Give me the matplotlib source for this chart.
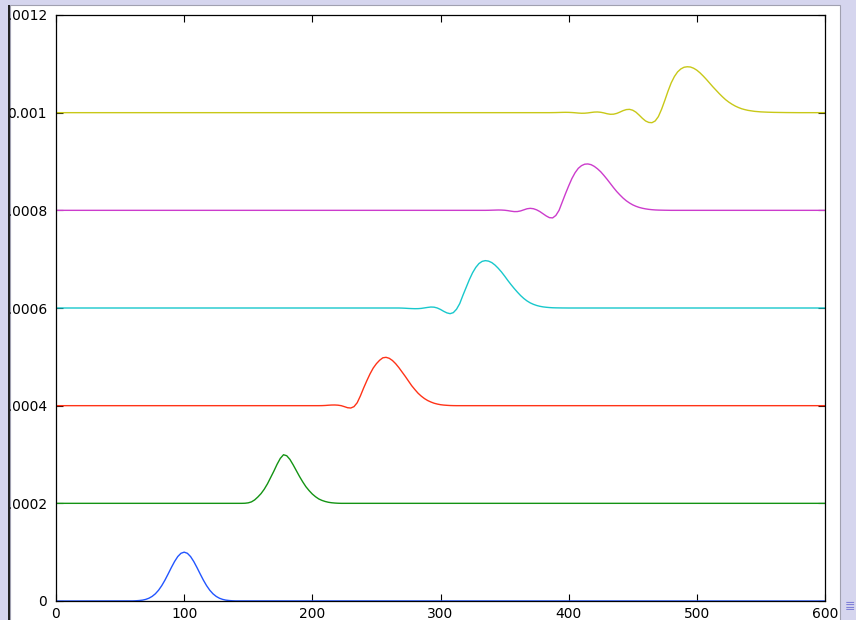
import matplotlib
matplotlib.use("Agg")
import matplotlib.pyplot as plt
from matplotlib.patches import Rectangle
import numpy as np

W, H = 856, 620

# baselines (the curves are stacked 0.0002 apart)
offsets = [0.0, 0.0002, 0.0004, 0.0006, 0.0008, 0.0010]

# deviations from the baseline, in units of 1e-5
x0 = [0, 60, 62.5, 65, 67.5, 70, 72.5, 75, 77.5, 80, 82.5, 85, 87.5, 90, 92.5, 95, 97.5,
      100, 102.5, 105, 107.5, 110, 112.5, 115, 117.5, 120, 122.5, 125, 127.5, 130,
      132.5, 135, 137.5, 140, 600]
d0 = [0, 0.02, 0.05, 0.1, 0.18, 0.33, 0.57, 0.94, 1.47, 2.2, 3.14, 4.27, 5.54, 6.85, 8.08, 9.1, 9.77,
      10.0, 9.77, 9.1, 8.08, 6.85, 5.54, 4.27, 3.14, 2.2, 1.47, 0.94, 0.57, 0.33,
      0.18, 0.1, 0.05, 0.02, 0]

x1 = [0, 145, 147.5, 150, 152.5, 155, 157.5, 160, 162.5, 165, 167.5, 170, 172.5, 175,
      177.5, 180, 182.5, 185, 187.5, 190, 192.5, 195, 197.5, 200, 202.5, 205, 207.5,
      210, 212.5, 215, 217.5, 220, 222.5, 600]
d1 = [0, 0, 0.02, 0.1, 0.3, 0.7, 1.3, 2.0, 2.9, 4.0, 5.3, 6.6, 8.0, 9.2,
      9.95, 9.75, 9.0, 7.9, 6.7, 5.5, 4.4, 3.4, 2.6, 1.9, 1.35, 0.9, 0.6,
      0.38, 0.22, 0.12, 0.06, 0.02, 0, 0]

x2 = [0, 205, 207.5, 210, 212.5, 215, 217.5, 220, 222.5, 225, 227.5, 230, 232.5, 235,
      237.5, 240, 242.5, 245, 247.5, 250, 252.5, 255, 257.5, 260, 262.5, 265, 267.5,
      270, 272.5, 275, 277.5, 280, 282.5, 285, 287.5, 290, 292.5, 295, 297.5, 300,
      302.5, 305, 307.5, 310, 312.5, 600]
d2 = [0, 0, 0.01, 0.04, 0.09, 0.13, 0.14, 0.1, 0.0, -0.2, -0.42, -0.48, -0.2, 0.6,
      2.0, 3.6, 5.1, 6.5, 7.7, 8.6, 9.3, 9.8, 9.9, 9.7, 9.25, 8.6, 7.8,
      6.9, 6.0, 5.05, 4.1, 3.3, 2.55, 1.95, 1.45, 1.05, 0.75, 0.5, 0.33, 0.2,
      0.12, 0.07, 0.03, 0.01, 0, 0]

x3 = [0, 265, 267.5, 270, 272.5, 275, 277.5, 280, 282.5, 285, 287.5, 290, 292.5, 295,
      297.5, 300, 302.5, 305, 307.5, 310, 312.5, 315, 317.5, 320, 322.5, 325, 327.5,
      330, 332.5, 335, 337.5, 340, 342.5, 345, 347.5, 350, 352.5, 355, 357.5, 360,
      362.5, 365, 367.5, 370, 372.5, 375, 377.5, 380, 382.5, 385, 387.5, 390, 395,
      400, 600]
d3 = [0, 0, 0.0, -0.02, -0.05, -0.09, -0.12, -0.14, -0.13, -0.08, 0.02, 0.12, 0.2, 0.17,
      0.0, -0.3, -0.68, -1.0, -1.16, -0.95, -0.25, 0.9, 2.6, 4.2, 5.8, 7.2, 8.3,
      9.1, 9.55, 9.7, 9.6, 9.3, 8.8, 8.15, 7.4, 6.55, 5.65, 4.8, 4.0, 3.25,
      2.55, 1.95, 1.45, 1.05, 0.75, 0.52, 0.35, 0.23, 0.15, 0.09, 0.05, 0.03, 0.01,
      0, 0]

x4 = [0, 335, 337.5, 340, 342.5, 345, 347.5, 350, 352.5, 355, 357.5, 360, 362.5, 365,
      367.5, 370, 372.5, 375, 377.5, 380, 382.5, 385, 387.5, 390, 392.5, 395, 397.5,
      400, 402.5, 405, 407.5, 410, 412.5, 415, 417.5, 420, 422.5, 425, 427.5, 430,
      432.5, 435, 437.5, 440, 442.5, 445, 447.5, 450, 452.5, 455, 457.5, 460, 462.5,
      465, 467.5, 470, 475, 480, 600]
d4 = [0, 0, 0.01, 0.03, 0.05, 0.07, 0.06, 0.02, -0.06, -0.17, -0.26, -0.25, -0.12, 0.1,
      0.32, 0.41, 0.33, 0.1, -0.25, -0.7, -1.15, -1.5, -1.55, -1.05, 0.0, 1.7, 3.4,
      5.0, 6.5, 7.7, 8.6, 9.15, 9.45, 9.5, 9.35, 9.0, 8.5, 7.9, 7.15, 6.35,
      5.5, 4.65, 3.85, 3.15, 2.5, 1.95, 1.5, 1.12, 0.83, 0.6, 0.43, 0.3, 0.2,
      0.13, 0.08, 0.05, 0.02, 0, 0]

x5 = [0, 385, 390, 395, 397.5, 400, 402.5, 405, 407.5, 410, 412.5, 415, 417.5, 420,
      422.5, 425, 427.5, 430, 432.5, 435, 437.5, 440, 442.5, 445, 447.5, 450, 452.5,
      455, 457.5, 460, 462.5, 465, 467.5, 470, 472.5, 475, 477.5, 480, 482.5, 485,
      487.5, 490, 492.5, 495, 497.5, 500, 502.5, 505, 507.5, 510, 512.5, 515, 517.5,
      520, 522.5, 525, 527.5, 530, 532.5, 535, 537.5, 540, 545, 550, 555, 560, 565,
      570, 580, 600]
d5 = [0, 0, 0.02, 0.06, 0.07, 0.06, 0.03, -0.02, -0.08, -0.12, -0.11, -0.05, 0.04, 0.12,
      0.14, 0.08, -0.05, -0.22, -0.33, -0.31, -0.15, 0.12, 0.42, 0.63, 0.68, 0.5, 0.1,
      -0.5, -1.15, -1.7, -2.0, -2.05, -1.7, -0.8, 0.7, 2.5, 4.4, 6.1, 7.4, 8.35,
      8.95, 9.3, 9.4, 9.35, 9.1, 8.7, 8.15, 7.5, 6.8, 6.05, 5.3, 4.6, 3.9,
      3.25, 2.65, 2.15, 1.72, 1.35, 1.05, 0.8, 0.62, 0.47, 0.27, 0.16, 0.1, 0.06, 0.04,
      0.02, 0, 0]

xs = [x0, x1, x2, x3, x4, x5]
ds = [d0, d1, d2, d3, d4, d5]
colors = ['#2255ff', '#139313', '#ff3318', '#18c8cc', '#cc3ccc', '#c8c818']

xticks = [0, 100, 200, 300, 400, 500, 600]
yticks = [0, 0.0002, 0.0004, 0.0006, 0.0008, 0.001, 0.0012]
ylabels = ['0', '0.0002', '0.0004', '0.0006', '0.0008', '0.001', '0.0012']


def px_box(x1p, y1p, x2p, y2p):
    # pixel box (top-left origin) -> figure fraction (left, bottom, w, h)
    return x1p / W, 1 - y2p / H, (x2p - x1p) / W, (y2p - y1p) / H


fig = plt.figure(figsize=(W / 100, H / 100), dpi=100, facecolor='#d5d5ee')

# white window area
l, b, w, h = px_box(10, 5, 840, 625)
fig.patches.append(Rectangle((l, b), w, h, transform=fig.transFigure,
                             facecolor='white', edgecolor='#a0a0b0', lw=0.8, zorder=-1))

ax = fig.add_axes(px_box(56, 15, 825, 601))
for xv, dv, off, c in zip(xs, ds, offsets, colors):
    ax.plot(xv, off + np.array(dv) * 1e-5, color=c, lw=1.0)

ax.set_xlim(0, 600)
ax.set_ylim(0, 0.0012)
ax.set_xticks(xticks)
ax.set_xticklabels([str(t) for t in xticks])
ax.set_yticks(yticks)
ax.set_yticklabels(ylabels)
ax.tick_params(direction='in', length=5, width=0.8, top=True, right=True,
               labelsize=10, pad=4, colors='black')
ax.tick_params(axis='y', pad=6.5)
for s in ax.spines.values():
    s.set_linewidth(0.9)

# window edge on the left hides the start of the tick labels
l, b, w, h = px_box(0, 0, 8, 620)
fig.patches.append(Rectangle((l, b), w, h, transform=fig.transFigure,
                             facecolor='#d5d5ee', edgecolor='none', zorder=10))
l, b, w, h = px_box(8, 5, 10, 620)
fig.patches.append(Rectangle((l, b), w, h, transform=fig.transFigure,
                             facecolor='#222222', edgecolor='none', zorder=11))

# resize grip
fig.text(850 / W, 1 - 606 / H, '\u2263', color='#8080d8', fontsize=9,
         ha='center', va='center')

fig.savefig('out.png', dpi=100, facecolor=fig.get_facecolor())
